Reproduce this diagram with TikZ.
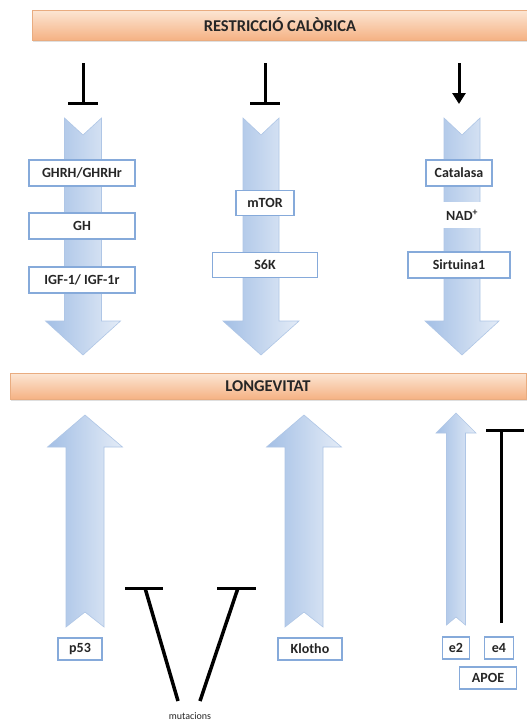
\documentclass[tikz,border=0pt]{standalone}
\usepackage{fontspec}
\setmainfont{Carlito}
\usetikzlibrary{arrows.meta,shadows}
\definecolor{barTop}{HTML}{FCE6D4}
\definecolor{barBot}{HTML}{F5B284}
\definecolor{barLine}{HTML}{E9AC80}
\definecolor{arrL}{HTML}{A3BFE5}
\definecolor{arrR}{HTML}{E4ECF7}
\definecolor{arrLine}{HTML}{AFC6E6}
\definecolor{boxLine}{HTML}{86AADA}
\definecolor{txt}{HTML}{262626}
\tikzset{
  titlebar/.style={draw=barLine, line width=0.6pt, top color=barTop, bottom color=barBot,
    inner sep=0pt, text=txt, font=\bfseries\fontsize{16.5}{18}\selectfont,
    drop shadow={opacity=0.25, shadow xshift=1pt, shadow yshift=-2pt}},
  genebox/.style={draw=boxLine, fill=white, line width=1.3pt, inner sep=0pt,
    minimum height=26pt, text=txt, font=\bfseries\fontsize{14}{16}\selectfont},
  bigarrow/.style={draw=arrLine, line width=0.6pt, left color=arrL, right color=arrR},
  inhib/.style={line width=3pt, line cap=butt},
  actarrow/.style={line width=3pt, -{Triangle[length=11pt,width=13pt]}},
}
% down arrow: cx, top, notch, shafthalf, headbase, headhalf, tip
\newcommand\DownArr[7]{%
  \draw[bigarrow] (#1-#4,#2) -- (#1,#2+#3) -- (#1+#4,#2) -- (#1+#4,#5) -- (#1+#6,#5)
    -- (#1,#7) -- (#1-#6,#5) -- (#1-#4,#5) -- cycle;}
% up arrow: cx, bottom, notch, shafthalf, headbase, headhalf, tip
\newcommand\UpArr[7]{%
  \draw[bigarrow] (#1-#4,#2) -- (#1,#2-#3) -- (#1+#4,#2) -- (#1+#4,#5) -- (#1+#6,#5)
    -- (#1,#7) -- (#1-#6,#5) -- (#1-#4,#5) -- cycle;}
\begin{document}
\begin{tikzpicture}[x=1pt,y=-1pt]
\useasboundingbox[fill=white] (0,0) rectangle (527,724);

% title bars
\node[titlebar, minimum width=496pt, minimum height=30pt] (rc) at (280,25) {RESTRICCIÓ CALÒRICA};
\node[titlebar, minimum width=516pt, minimum height=26pt] (lon) at (268,386) {LONGEVITAT};

% top inhibitions / activation
\coordinate (i1s) at (83,63);  \coordinate (i1e) at (83,103);
\coordinate (i1l) at (68,103); \coordinate (i1r) at (98,103);
\coordinate (i2s) at (265,63); \coordinate (i2e) at (265,103);
\coordinate (i2l) at (250,103); \coordinate (i2r) at (280,103);
\coordinate (a3s) at (459,63); \coordinate (a3e) at (459,104);
\draw[inhib] (i1s) -- (i1e);
\draw[inhib] (i1l) -- (i1r);
\draw[inhib] (i2s) -- (i2e);
\draw[inhib] (i2l) -- (i2r);
\draw[actarrow] (a3s) -- (a3e);

% down arrows
\DownArr{83}{118}{17}{18.5}{321}{37.5}{355}
\DownArr{261}{118}{17}{18}{321}{38}{355}
\DownArr{462}{118}{17}{18}{321}{37}{355}

% column 1
\node[genebox, minimum width=106pt] (ghrh) at (82,173) {GHRH/GHRHr};
\node[genebox, minimum width=106pt] (gh) at (82,226) {GH};
\node[genebox, minimum width=106pt] (igf) at (82,280) {IGF-1/ IGF-1r};
% column 2
\node[genebox, minimum width=58pt, minimum height=25pt] (mtor) at (265,203) {mTOR};
\node[genebox, minimum width=105pt, minimum height=25pt] (s6k) at (265,265) {S6K};
% column 3
\node[genebox, minimum width=66pt] (cat) at (459,173) {Catalasa};
\node[fill=white, minimum width=40pt, minimum height=26pt, inner sep=0pt, text=txt,
  font=\bfseries\fontsize{14}{16}\selectfont] (nad) at (462,215) {NAD\textsuperscript{+}};
\node[genebox, minimum width=102pt] (sirt) at (459,265) {Sirtuina1};

% up arrows
\UpArr{85}{627}{15}{19}{447}{37.5}{415}
\UpArr{304}{627}{15}{19}{447}{37.5}{415}
\UpArr{456}{625}{8}{9.5}{433}{20}{413}

% bottom boxes
\node[genebox, minimum width=44pt, minimum height=22pt] (p53) at (80,649) {p53};
\node[genebox, minimum width=64pt, minimum height=22pt] (klotho) at (310,649) {Klotho};
\node[genebox, minimum width=27pt, minimum height=22pt] (e2) at (456,648) {e2};
\node[genebox, minimum width=29pt, minimum height=22pt] (e4) at (499,648) {e4};
\node[genebox, minimum width=57pt, minimum height=22pt] (apoe) at (488,678) {APOE};

% e4 inhibition
\coordinate (e4s) at (501,623); \coordinate (e4e) at (501,430);
\coordinate (e4l) at (486,430); \coordinate (e4r) at (524,430);
\draw[inhib] (e4s) -- (e4e);
\draw[inhib] (e4l) -- (e4r);

% mutations
\node[font=\fontsize{10}{11}\selectfont, text=txt] (mut) at (190,716) {mutacions};
\coordinate (m1b) at (178,701); \coordinate (m1t) at (145,588);
\coordinate (m1l) at (125,588); \coordinate (m1r) at (163,588);
\coordinate (m2b) at (200,701); \coordinate (m2t) at (238,588);
\coordinate (m2l) at (217,588); \coordinate (m2r) at (256,588);
\draw[inhib, line width=3.5pt] (m1b) -- (m1t);
\draw[inhib] (m1l) -- (m1r);
\draw[inhib, line width=3.5pt] (m2b) -- (m2t);
\draw[inhib] (m2l) -- (m2r);
\end{tikzpicture}
\end{document}
